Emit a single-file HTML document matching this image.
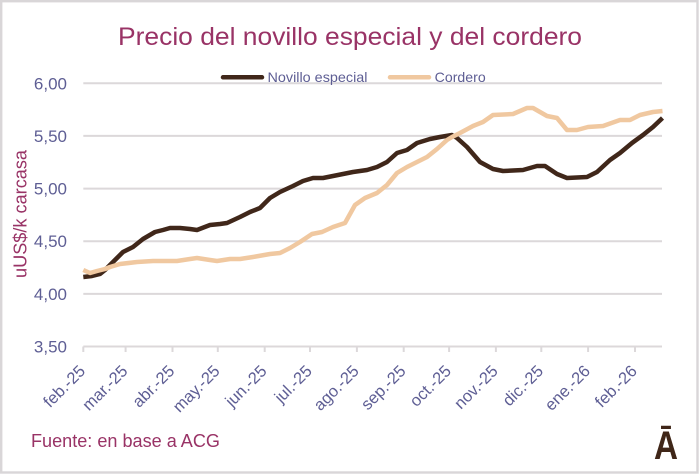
<!DOCTYPE html>
<html><head><meta charset="utf-8"><style>
html,body{margin:0;padding:0;background:#fff;}
svg{display:block;}
text{font-family:"Liberation Sans",Arial,sans-serif;}
</style></head><body>
<svg width="699" height="474" viewBox="0 0 699 474" xmlns="http://www.w3.org/2000/svg">
<rect x="0" y="0" width="699" height="474" fill="#fff"/>
<rect x="1.2" y="1.2" width="696.3" height="471.3" fill="none" stroke="#d9d6d8" stroke-width="2.4"/>
<!-- title -->
<text x="118" y="45" font-size="25" fill="#993366" textLength="464" lengthAdjust="spacingAndGlyphs">Precio del novillo especial y del cordero</text>
<!-- gridlines -->
<g stroke="#dcd8da" stroke-width="2" fill="none">
<line x1="83.3" y1="83.3" x2="662" y2="83.3"/>
<line x1="83.3" y1="135.9" x2="662" y2="135.9"/>
<line x1="83.3" y1="188.6" x2="662" y2="188.6"/>
<line x1="83.3" y1="241.2" x2="662" y2="241.2"/>
<line x1="83.3" y1="293.9" x2="662" y2="293.9"/>
<line x1="83.3" y1="346.5" x2="662" y2="346.5"/>
<line x1="83.3" y1="346.5" x2="83.3" y2="352"/>
<line x1="125.6" y1="346.5" x2="125.6" y2="352"/>
<line x1="172.5" y1="346.5" x2="172.5" y2="352"/>
<line x1="217.8" y1="346.5" x2="217.8" y2="352"/>
<line x1="264.7" y1="346.5" x2="264.7" y2="352"/>
<line x1="310" y1="346.5" x2="310" y2="352"/>
<line x1="356.9" y1="346.5" x2="356.9" y2="352"/>
<line x1="403.7" y1="346.5" x2="403.7" y2="352"/>
<line x1="449.1" y1="346.5" x2="449.1" y2="352"/>
<line x1="495.9" y1="346.5" x2="495.9" y2="352"/>
<line x1="541.3" y1="346.5" x2="541.3" y2="352"/>
<line x1="588.1" y1="346.5" x2="588.1" y2="352"/>
<line x1="635" y1="346.5" x2="635" y2="352"/>
</g>
<!-- y labels -->
<g font-size="17" fill="#5e5e94" text-anchor="end">
<text x="67" y="89.3">6,00</text>
<text x="67" y="141.9">5,50</text>
<text x="67" y="194.6">5,00</text>
<text x="67" y="247.2">4,50</text>
<text x="67" y="299.9">4,00</text>
<text x="67" y="352.5">3,50</text>
</g>
<!-- y title -->
<text transform="translate(26.5,214) rotate(-90)" font-size="18" fill="#993366" text-anchor="middle" textLength="128" lengthAdjust="spacingAndGlyphs">uUS$/k carcasa</text>
<!-- x labels -->
<g font-size="16.5" fill="#5e5e94" text-anchor="end">
<text transform="translate(86.3,372) rotate(-45)">feb.-25</text>
<text transform="translate(128.6,372) rotate(-45)">mar.-25</text>
<text transform="translate(175.5,372) rotate(-45)">abr.-25</text>
<text transform="translate(220.8,372) rotate(-45)">may.-25</text>
<text transform="translate(267.7,372) rotate(-45)">jun.-25</text>
<text transform="translate(313,372) rotate(-45)">jul.-25</text>
<text transform="translate(359.9,372) rotate(-45)">ago.-25</text>
<text transform="translate(406.7,372) rotate(-45)">sep.-25</text>
<text transform="translate(452.1,372) rotate(-45)">oct.-25</text>
<text transform="translate(498.9,372) rotate(-45)">nov.-25</text>
<text transform="translate(544.3,372) rotate(-45)">dic.-25</text>
<text transform="translate(591.1,372) rotate(-45)">ene.-26</text>
<text transform="translate(638,372) rotate(-45)">feb.-26</text>
</g>
<!-- legend -->
<line x1="223" y1="77.3" x2="262" y2="77.3" stroke="#40271a" stroke-width="4.5" stroke-linecap="round"/>
<text x="267.5" y="82" font-size="14" fill="#5e5e94" textLength="100" lengthAdjust="spacingAndGlyphs">Novillo especial</text>
<line x1="390" y1="77.3" x2="429" y2="77.3" stroke="#f0c8a0" stroke-width="4.5" stroke-linecap="round"/>
<text x="434.7" y="82" font-size="14" fill="#5e5e94" textLength="51" lengthAdjust="spacingAndGlyphs">Cordero</text>
<!-- series -->
<polyline fill="none" stroke="#40271a" stroke-width="4.5" stroke-linejoin="round" points="83.3,277 92,276 100,274 105,270 110,265 116,259 123,252 133,247 143,239 155,232 163,230 170,228 180,228 190,229 197,230 210,225 220,224 227,223 240,217 250,212 260,208 270,198 280,192 293,186 303,181 313,178 323,178 333,176 343,174 353,172 367,170 377,167 387,162 397,153 407,150 417,143 430,139 440,137 452,135 457,138 467,147 480,162 493,169 503,171 523,170 537,166 545,166 557,174 567,178 587,177 597,172 610,160 620,153 632,143 643,135 653,127 662.5,118"/>
<polyline fill="none" stroke="#f0c8a0" stroke-width="4.5" stroke-linejoin="round" points="83.3,270 90,273 97,271 105,269 110,267 120,264 137,262 153,261 177,261 190,259 197,258 210,260 217,261 230,259 240,259 253,257 270,254 280,253 290,248 300,242 312,234 322,232 333,227 345,223 355,205 365,198 377,193 387,185 397,173 407,167 417,162 427,157 437,149 447,140 452,137 460,133 473,126 483,122 493,115 513,114 527,108 533,108 547,116 557,118 567,130 577,130 588,127 603,126 620,120 630,120 640,115 653,112 662.5,111"/>
<!-- source -->
<text x="31" y="447" font-size="18" fill="#993366" textLength="189" lengthAdjust="spacingAndGlyphs">Fuente: en base a ACG</text>
<!-- logo -->
<text x="654" y="459" font-size="40" font-weight="bold" fill="#3f2618" textLength="24" lengthAdjust="spacingAndGlyphs">Ā</text>
</svg>
</body></html>
